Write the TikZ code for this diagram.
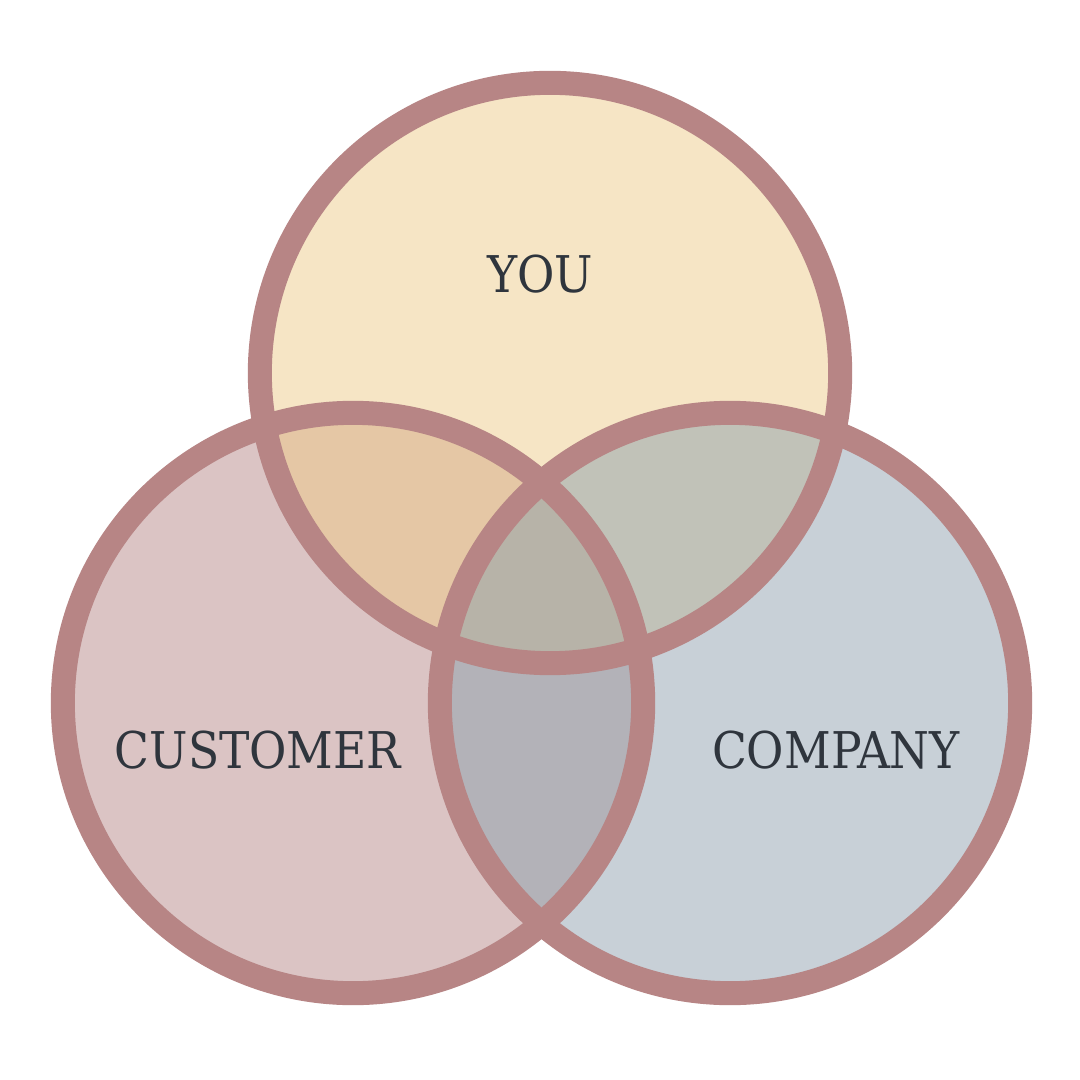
\documentclass[tikz,border=0pt]{standalone}
\usepackage{xcolor}
\usepackage{fontspec}
\setmainfont{DejaVu Serif Condensed}
\usetikzlibrary{positioning}
\definecolor{Rose}{HTML}{B78585}
\definecolor{Butter}{HTML}{F6E5C5}
\definecolor{Blush}{HTML}{DBC4C4}
\definecolor{Mist}{HTML}{C8D0D7}
\definecolor{Peach}{HTML}{E5C7A5}
\definecolor{Sage}{HTML}{C1C2B8}
\definecolor{Slate}{HTML}{B3B2B8}
\definecolor{Stone}{HTML}{B7B3A8}
\definecolor{Ink}{HTML}{2F353D}
\definecolor{White}{HTML}{FFFFFF}

\begin{document}
\begin{tikzpicture}[x=0.01cm,y=-0.01cm,
    ring/.style={draw=Rose,line width=0.24cm},
    venntext/.style={text=Ink,font=\fontsize{14.4}{16}\selectfont}]
  \useasboundingbox[fill=White] (0,0) rectangle (1080,1080);
  \coordinate (you) at (550,373);
  \coordinate (cust) at (353,703);
  \coordinate (comp) at (730,703);
  % base discs
  \fill[Butter] (you) circle (2.9cm);
  \fill[Blush] (cust) circle (2.9cm);
  \fill[Mist] (comp) circle (2.9cm);
  % overlaps
  \begin{scope}
    \clip (you) circle (2.9cm);
    \fill[Peach] (cust) circle (2.9cm);
    \fill[Sage] (comp) circle (2.9cm);
  \end{scope}
  \begin{scope}
    \clip (cust) circle (2.9cm);
    \fill[Slate] (comp) circle (2.9cm);
  \end{scope}
  \begin{scope}
    \clip (you) circle (2.9cm);
    \clip (cust) circle (2.9cm);
    \fill[Stone] (comp) circle (2.9cm);
  \end{scope}
  \foreach \c in {you,cust,comp}
    \draw[ring] (\c) circle (2.9cm);
  \node[venntext] (tyou) at (540,274) {YOU};
  \node[venntext] (tcust) at (258,750) {CUSTOMER};
  \node[venntext] (tcomp) at (836,750) {COMPANY};
\end{tikzpicture}
\end{document}
